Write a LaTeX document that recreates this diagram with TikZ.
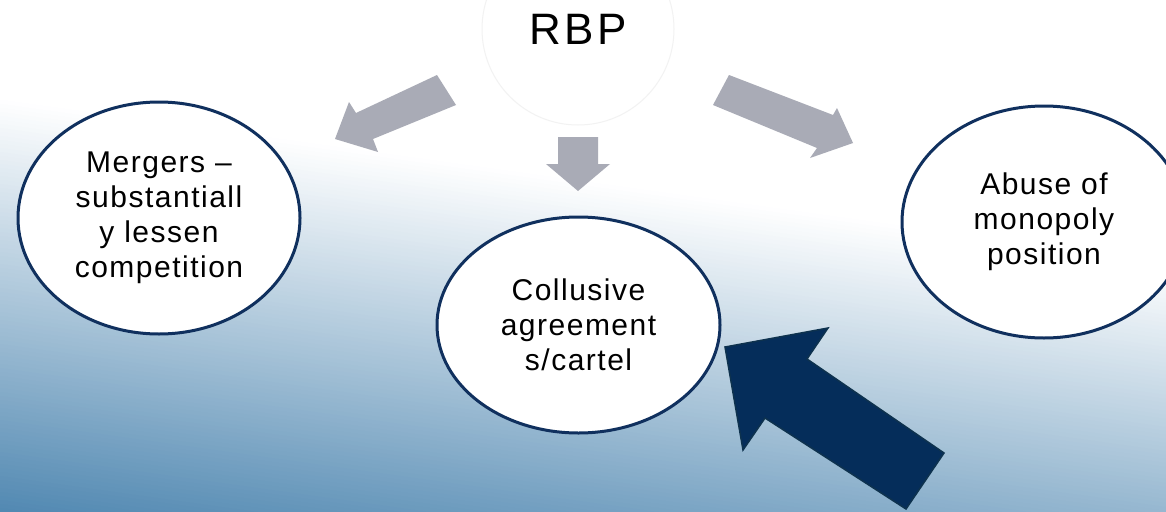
\documentclass[tikz,border=0pt]{standalone}
\usepackage{fontspec}
\setmainfont{Liberation Sans}
\newfontfamily\lblfont{Liberation Sans}[LetterSpace=5]
\newfontfamily\topfont{Liberation Sans}[LetterSpace=8]
\usetikzlibrary{shapes.geometric}
\definecolor{bgblue}{RGB}{82,137,178}
\definecolor{grayarrow}{RGB}{169,171,182}
\definecolor{navyline}{RGB}{16,48,94}
\definecolor{navyfill}{RGB}{5,45,90}
\definecolor{navyedge}{RGB}{14,50,78}
\begin{document}
\begin{tikzpicture}[x=1pt,y=-1pt,
  bubble/.style={ellipse, draw=navyline, line width=3pt, fill=white, inner sep=0pt,
    align=center, font=\lblfont\fontsize{30}{35}\selectfont, text=black},
  topcircle/.style={circle, draw=black!5, line width=1pt, fill=white, inner sep=0pt,
    minimum size=192pt, font=\topfont\fontsize{44}{44}\selectfont, text=black},
  grayarr/.style={fill=grayarrow},
  bigarr/.style={fill=navyfill, draw=navyedge, line width=1.5pt, line join=miter}]
\useasboundingbox (0,0) rectangle (1166,511);
\clip (0,0) rectangle (1166,511);
\fill[white] (0,0) rectangle (1166,511);
% background gradient stripes
\foreach \t in {100,104,...,508}{
  \pgfmathsetmacro\f{min(100,(\t+2-100)/411*100)}
  \fill[bgblue!\f!white] (0,\t) -- (1166,\t+163) -- (1166,\t+168.5) -- (0,\t+5.5) -- cycle;
}
% top circle
\node[topcircle] (rbp) at (578,29) {RBP};
% bubbles
\node[bubble, minimum width=282pt, minimum height=232pt] (merg) at (159,218)
  {Mergers –\\substantiall\\y lessen\\competition};
\node[bubble, minimum width=283pt, minimum height=216pt] (coll) at (578.5,325)
  {Collusive\\agreement\\s/cartel};
\node[bubble, minimum width=284pt, minimum height=232pt] (abuse) at (1044,222)
  {Abuse of\\monopoly\\position};
% gray block arrows
\fill[grayarr] (437,75) -- (356,113) -- (349,102) -- (335,139) -- (378,152) -- (373,139) -- (456,105) -- cycle;
\fill[grayarr] (558,137) -- (598,137) -- (598,164) -- (610,164) -- (578,191) -- (546,164) -- (558,164) -- cycle;
\fill[grayarr] (729,75) -- (833,115) -- (837,108) -- (853,143) -- (810,158) -- (817,148) -- (713,105) -- cycle;
% big navy arrow
\filldraw[bigarr] (725,347) -- (828,328) -- (807,359) -- (944,453) -- (906,509) -- (765,418) -- (743,450) -- cycle;
\end{tikzpicture}
\end{document}
